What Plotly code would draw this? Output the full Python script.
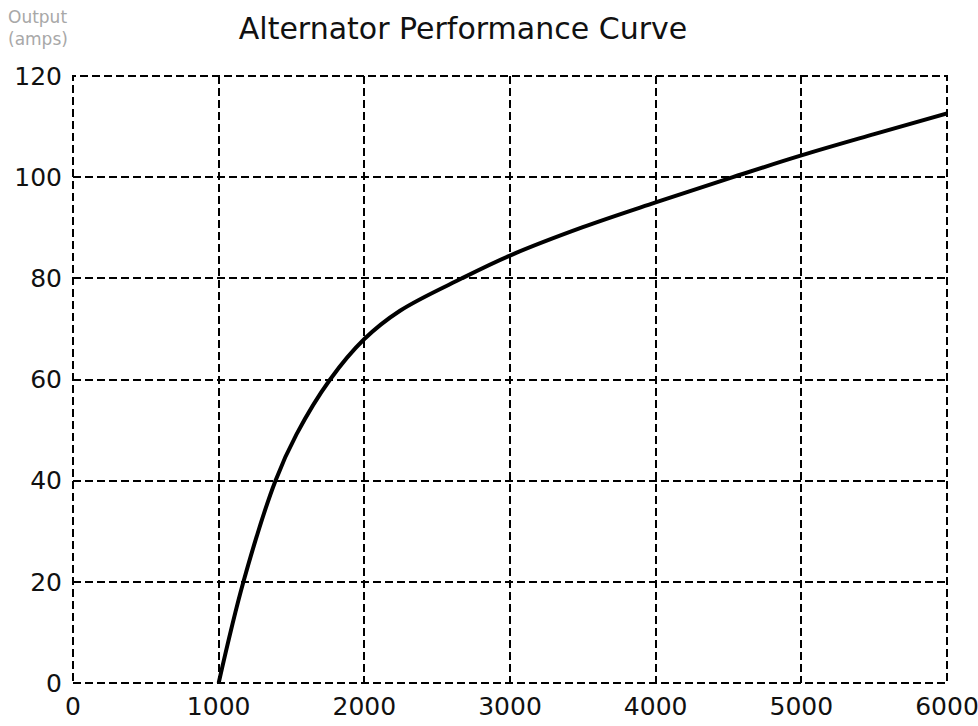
import plotly.graph_objects as go

rpm = [1000, 1170, 1390, 1535, 1765, 2000, 2245, 2670, 3000, 3500, 4000, 4530, 5000, 5500, 6000]
amps = [0, 20, 40, 49.2, 60, 68, 73.6, 80, 84.5, 90.1, 95, 100, 104.3, 108.5, 112.6]

x_ticks = [0, 1000, 2000, 3000, 4000, 5000, 6000]
y_ticks = [0, 20, 40, 60, 80, 100, 120]

fig = go.Figure()
fig.add_trace(go.Scatter(x=rpm, y=amps, mode="lines",
                         line=dict(color="black", width=4, shape="spline", smoothing=1.0),
                         showlegend=False, hoverinfo="skip"))

font = "DejaVu Sans"
dash = "8px,4px"
fig.update_layout(
    width=978, height=726,
    margin=dict(l=73, r=31, t=76, b=43),
    paper_bgcolor="white", plot_bgcolor="white",
    font=dict(family=font, size=25, color="black"),
    title=dict(text="Alternator Performance Curve", x=463 / 978, xanchor="center",
               y=1 - 28 / 726, yanchor="middle", font=dict(family=font, size=30, color="#111111")),
    xaxis=dict(range=[0, 6000], tickvals=x_ticks, ticktext=[str(v) for v in x_ticks],
               showgrid=True, gridcolor="black", griddash=dash, gridwidth=2,
               zeroline=False, showline=False, ticks="", tickfont=dict(size=25, color="#111111"),
               automargin=False, ticklabelstandoff=6, ticklabeloverflow="allow"),
    yaxis=dict(range=[0, 120], tickvals=y_ticks, ticktext=[str(v) for v in y_ticks],
               showgrid=True, gridcolor="black", griddash=dash, gridwidth=2,
               zeroline=False, showline=False, ticks="", tickfont=dict(size=25, color="#111111"),
               automargin=False, ticklabelstandoff=10, ticklabeloverflow="allow"),
    shapes=[dict(type="rect", xref="paper", yref="paper", x0=0, x1=1, y0=0, y1=1,
                 line=dict(color="black", width=2, dash=dash), layer="below")],
    annotations=[dict(text="Output<br>(amps)", xref="paper", yref="paper",
                      x=(6 - 73) / (978 - 73 - 31), y=1 + (76 - 5) / (726 - 76 - 43),
                      xanchor="left", yanchor="top", showarrow=False, align="left",
                      font=dict(family=font, size=17, color="#a8a8a8"))],
)
fig.write_html("out.html")
